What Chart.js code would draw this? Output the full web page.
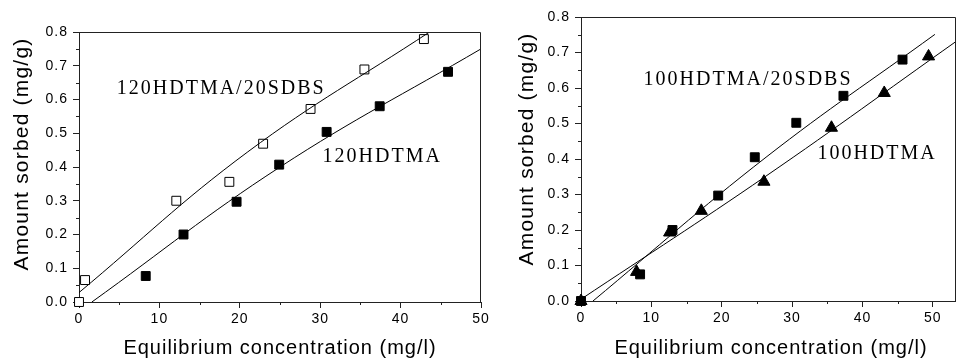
<!DOCTYPE html>
<html>
<head>
<meta charset="utf-8">
<script src="https://cdn.jsdelivr.net/npm/chart.js@4"></script>
<style>
  body { margin: 0; background: #fff; }
  #wrap { position: relative; width: 956px; height: 360px; overflow: hidden; }
  canvas { position: absolute; top: 0; }
</style>
</head>
<body>
<div id="wrap">
  <canvas id="leftChart" style="left:0px" width="510" height="360"></canvas>
  <canvas id="rightChart" style="left:490px" width="490" height="360"></canvas>
</div>
<script>
// left panel : 120HDTMA/20SDBS (open squares), 120HDTMA (filled squares)
const openX = [0, 0.75, 12.1, 18.7, 22.9, 28.8, 35.5, 42.9];
const openY = [0, 0.065, 0.30, 0.356, 0.469, 0.572, 0.689, 0.779];
const fillX = [8.3, 13.0, 19.6, 24.9, 30.8, 37.4, 45.9];
const fillY = [0.077, 0.20, 0.297, 0.407, 0.504, 0.58, 0.682];
const openFitX = [0, 21, 43.6];
const openFitY = [0.028, 0.445, 0.8];
const fillFitX = [1.6, 25, 50];
const fillFitY = [0, 0.4, 0.75];

// right panel : 100HDTMA/20SDBS (squares), 100HDTMA (triangles)
const sqX = [0, 8.4, 13.0, 19.5, 24.7, 30.6, 37.3, 45.7];
const sqY = [0, 0.075, 0.2, 0.297, 0.405, 0.502, 0.578, 0.68];
const triX = [0, 7.9, 12.6, 17.1, 26.0, 35.6, 43.1, 49.4];
const triY = [0, 0.082, 0.193, 0.254, 0.336, 0.488, 0.586, 0.689];
const sqFitX = [1.7, 26.3, 50.3];
const sqFitY = [0, 0.405, 0.751];
const triFitX = [0, 26.3, 53.3];
const triFitY = [0.005, 0.352, 0.731];

// tick labels
const yMajor = [0, 0.1, 0.2, 0.3, 0.4, 0.5, 0.6, 0.7, 0.8];
const xMajor = [0, 10, 20, 30, 40, 50];

const xTitle = 'Equilibrium concentration (mg/l)';
const yTitle = 'Amount sorbed (mg/g)';

function toPts(xs, ys) {
    return xs.map((x, i) => ({ x: x, y: ys[i] }));
}

function isMajor(v, list) {
    return list.some(m => Math.abs(m - v) < 1e-6);
}

const frame = {
    id: 'frame',
    beforeDraw(chart) {
        chart.ctx.letterSpacing = '1px';
    },
    afterDraw(chart, args, opts) {
        const ctx = chart.ctx;
        const a = chart.chartArea;
        const sx = chart.scales.x, sy = chart.scales.y;
        ctx.save();
        ctx.strokeStyle = '#222';
        ctx.lineWidth = 1;
        // top and right border
        const t = Math.round(a.top) + 0.5, r = Math.round(a.right) - 0.5;
        ctx.beginPath();
        ctx.moveTo(a.left, t);
        ctx.lineTo(r, t);
        ctx.lineTo(r, a.bottom);
        ctx.stroke();
        // minor ticks
        ctx.beginPath();
        sy.ticks.forEach(tk => {
            if (isMajor(tk.value, yMajor)) return;
            const y = Math.round(sy.getPixelForValue(tk.value)) + 0.5;
            ctx.moveTo(a.left - 3, y); ctx.lineTo(a.left, y);
        });
        sx.ticks.forEach(tk => {
            if (isMajor(tk.value, xMajor)) return;
            const x = Math.round(sx.getPixelForValue(tk.value)) + 0.5;
            ctx.moveTo(x, a.bottom); ctx.lineTo(x, a.bottom + 3);
        });
        ctx.stroke();

        ctx.fillStyle = '#000';
        // axis titles
        ctx.font = '20px "Liberation Sans"';
        ctx.letterSpacing = '1px';
        ctx.textAlign = 'center';
        ctx.textBaseline = 'middle';
        ctx.fillText(xTitle, opts.xTitleX, 348);
        ctx.save();
        ctx.translate(opts.yTitleX, opts.yTitleY);
        ctx.rotate(-Math.PI / 2);
        ctx.font = '21px "Liberation Sans"';
        ctx.letterSpacing = '1.2px';
        ctx.fillText(yTitle, 0, 0);
        ctx.restore();

        // curve labels
        ctx.font = '20px "Liberation Serif"';
        ctx.letterSpacing = '2px';
        ctx.textAlign = 'left';
        opts.labels.forEach(lb => {
            ctx.fillText(lb.text, sx.getPixelForValue(lb.x), sy.getPixelForValue(lb.y));
        });
        ctx.restore();
    }
};

function makeScales(xMax, yWidth, xHeight) {
    const tickFont = { family: 'Liberation Sans', size: 14 };
    return {
        x: {
            type: 'linear', min: 0, max: xMax,
            afterFit: s => { s.height = xHeight; },
            border: { color: '#222' },
            grid: {
                drawOnChartArea: false, tickLength: 6,
                tickColor: c => (c.tick && isMajor(c.tick.value, xMajor)) ? '#222' : 'rgba(0,0,0,0)'
            },
            ticks: {
                stepSize: 5, includeBounds: false, autoSkip: false, maxRotation: 0,
                padding: 3, color: '#000', font: tickFont,
                callback: v => isMajor(v, xMajor) ? String(v) : ''
            }
        },
        y: {
            type: 'linear', min: 0, max: 0.8,
            afterFit: s => { s.width = yWidth; },
            border: { color: '#222' },
            grid: {
                drawOnChartArea: false, tickLength: 6,
                tickColor: c => (c.tick && isMajor(c.tick.value, yMajor)) ? '#222' : 'rgba(0,0,0,0)'
            },
            ticks: {
                stepSize: 0.05, autoSkip: false, padding: 5, color: '#000', font: tickFont,
                callback: v => isMajor(v, yMajor) ? v.toFixed(1) : ''
            }
        }
    };
}

function markSet(pts, style, fill, radius) {
    return {
        data: pts, pointStyle: style, pointRadius: radius, pointHoverRadius: radius,
        backgroundColor: fill, borderColor: '#000', borderWidth: 1, order: 1, clip: false
    };
}

function fitSet(pts) {
    return {
        data: pts, showLine: true, pointRadius: 0, borderColor: '#000', borderWidth: 1,
        tension: 0.4, order: 0
    };
}

function drawLeft() {
    new Chart(document.querySelector('#leftChart'), {
        type: 'scatter',
        data: {
            datasets: [
                markSet(toPts(openX, openY), 'rect', '#fff', 6.3),
                markSet(toPts(fillX, fillY), 'rect', '#000', 6.3),
                fitSet(toPts(openFitX, openFitY)),
                fitSet(toPts(fillFitX, fillFitY))
            ]
        },
        options: {
            responsive: false, animation: false,
            layout: { padding: { top: 32, right: 29, left: 0, bottom: 0 } },
            scales: makeScales(50, 79, 58),
            plugins: {
                legend: { display: false }, tooltip: { enabled: false },
                frame: {
                    xTitleX: 280, yTitleX: 22, yTitleY: 154,
                    labels: [
                        { text: '120HDTMA/20SDBS', x: 4.7, y: 0.631 },
                        { text: '120HDTMA', x: 30.3, y: 0.43 }
                    ]
                }
            }
        },
        plugins: [frame]
    });
}

function drawRight() {
    new Chart(document.querySelector('#rightChart'), {
        type: 'scatter',
        data: {
            datasets: [
                markSet(toPts(triX, triY), 'triangle', '#000', 7),
                markSet(toPts(sqX, sqY), 'rect', '#000', 6.3),
                fitSet(toPts(sqFitX, sqFitY)),
                fitSet(toPts(triFitX, triFitY))
            ]
        },
        options: {
            responsive: false, animation: false,
            layout: { padding: { top: 17, right: 24, left: 0, bottom: 0 } },
            scales: makeScales(53.3, 91, 59),
            plugins: {
                legend: { display: false }, tooltip: { enabled: false },
                frame: {
                    xTitleX: 281, yTitleX: 37, yTitleY: 149,
                    labels: [
                        { text: '100HDTMA/20SDBS', x: 8.9, y: 0.623 },
                        { text: '100HDTMA', x: 33.6, y: 0.414 }
                    ]
                }
            }
        },
        plugins: [frame]
    });
}

drawLeft();
drawRight();
</script>
</body>
</html>
